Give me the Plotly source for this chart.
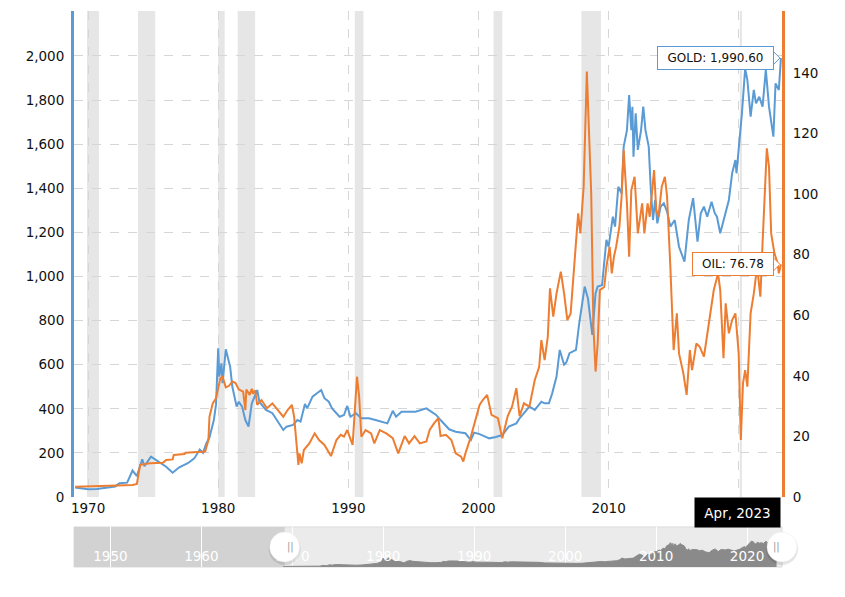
import pandas as pd
import plotly.graph_objects as go

# monthly readings (gold in USD/oz, WTI oil in USD/bbl)
gold_dates = [
    "1969-01", "1969-06", "1970-01", "1970-09", "1971-06", "1972-02", "1972-06", "1973-01",
    "1973-06", "1973-10", "1974-03", "1974-05", "1974-11", "1975-06", "1976-01", "1976-07",
    "1977-01", "1977-09", "1978-03", "1978-08", "1978-11", "1979-02", "1979-05", "1979-09",
    "1979-11", "1980-01", "1980-02", "1980-04", "1980-05", "1980-08", "1980-12", "1981-02",
    "1981-06", "1981-08", "1981-11", "1982-02", "1982-05", "1982-08", "1982-11", "1983-01",
    "1983-03", "1983-07", "1983-09", "1984-03", "1984-07", "1985-01", "1985-04", "1985-10",
    "1986-02", "1986-05", "1986-09", "1986-11", "1987-04", "1987-12", "1988-03", "1988-07",
    "1988-10", "1989-05", "1989-09", "1989-12", "1990-03", "1990-08", "1991-01", "1991-08",
    "1992-02", "1993-01", "1993-06", "1993-09", "1994-02", "1995-03", "1996-01", "1996-10",
    "1997-02", "1997-10", "1998-04", "1999-01", "1999-06", "1999-09", "2000-02", "2000-11",
    "2001-05", "2001-11", "2002-05", "2002-12", "2003-03", "2003-07", "2003-12", "2004-05",
    "2004-11", "2005-02", "2005-06", "2005-09", "2006-01", "2006-04", "2006-08", "2006-10",
    "2007-01", "2007-07", "2007-10", "2008-03", "2008-06", "2008-10", "2009-01", "2009-03",
    "2009-07", "2009-11", "2010-01", "2010-05", "2010-07", "2010-10", "2011-01", "2011-03",
    "2011-06", "2011-08", "2011-10", "2011-11", "2011-12", "2012-02", "2012-04", "2012-07",
    "2012-09", "2012-11", "2013-02", "2013-04", "2013-06", "2013-08", "2013-10", "2014-01",
    "2014-04", "2014-07", "2014-10", "2015-02", "2015-06", "2015-11", "2016-03", "2016-07",
    "2016-11", "2017-02", "2017-05", "2017-08", "2017-12", "2018-03", "2018-05", "2018-08",
    "2019-01", "2019-04", "2019-07", "2019-10", "2019-11", "2020-02", "2020-04", "2020-07",
    "2020-09", "2020-12", "2021-03", "2021-05", "2021-08", "2021-11", "2022-02", "2022-05",
    "2022-09", "2022-11", "2023-02", "2023-04",
]
gold_prices = [
    43, 41, 35, 36, 41, 48, 62, 65,
    120, 95, 171, 140, 183, 160, 137, 110,
    135, 153, 175, 215, 200, 243, 270, 349,
    420, 674, 546, 606, 516, 670, 591, 500,
    410, 432, 410, 349, 319, 425, 463, 485,
    432, 410, 395, 380, 349, 304, 319, 327,
    349, 342, 422, 402, 455, 485, 448, 432,
    402, 364, 372, 413, 364, 380, 357, 357,
    349, 334, 391, 364, 387, 387, 402, 372,
    349, 307, 296, 289, 258, 292, 285, 266,
    272, 281, 319, 334, 357, 380, 410, 395,
    432, 425, 425, 470, 546, 667, 600, 610,
    652, 667, 788, 954, 900, 735, 924, 954,
    960, 1166, 1135, 1271, 1226, 1407, 1377, 1589,
    1664, 1823, 1664, 1770, 1543, 1740, 1574, 1664,
    1770, 1664, 1589, 1392, 1256, 1347, 1241, 1317,
    1332, 1294, 1226, 1256, 1135, 1067, 1256, 1355,
    1158, 1287, 1317, 1271, 1339, 1287, 1271, 1196,
    1287, 1347, 1468, 1528, 1468, 1634, 1740, 1944,
    1891, 1725, 1846, 1785, 1815, 1770, 1937, 1770,
    1634, 1876, 1846, 1990.60,
]

oil_dates = [
    "1969-01", "1970-11", "1971-01", "1973-06", "1973-10", "1974-01", "1974-10", "1975-10",
    "1976-01", "1976-07", "1976-08", "1977-06", "1977-07", "1979-01", "1979-04", "1979-05",
    "1979-08", "1979-11", "1980-03", "1980-05", "1980-08", "1980-11", "1981-02", "1981-05",
    "1981-08", "1981-12", "1982-02", "1982-03", "1982-06", "1982-08", "1982-09", "1982-11",
    "1983-01", "1983-05", "1983-10", "1984-03", "1984-08", "1985-01", "1985-05", "1985-09",
    "1985-11", "1986-03", "1986-04", "1986-06", "1986-08", "1987-01", "1987-06", "1987-10",
    "1988-03", "1988-09", "1989-02", "1989-06", "1989-09", "1989-12", "1990-05", "1990-09",
    "1990-11", "1991-01", "1991-05", "1991-10", "1992-01", "1992-06", "1992-12", "1993-06",
    "1993-11", "1994-05", "1994-09", "1995-02", "1995-07", "1996-01", "1996-04", "1996-08",
    "1996-12", "1997-02", "1997-07", "1997-12", "1998-04", "1998-09", "1998-11", "1999-01",
    "1999-06", "1999-10", "2000-02", "2000-05", "2000-09", "2001-01", "2001-07", "2001-11",
    "2002-04", "2002-08", "2002-12", "2003-03", "2003-07", "2003-12", "2004-05", "2004-09",
    "2004-11", "2005-02", "2005-05", "2005-07", "2005-10", "2006-01", "2006-05", "2006-08",
    "2006-11", "2007-02", "2007-06", "2007-09", "2007-11", "2008-02", "2008-05", "2008-07",
    "2008-09", "2008-11", "2009-01", "2009-03", "2009-05", "2009-09", "2009-11", "2010-02",
    "2010-04", "2010-06", "2010-08", "2010-11", "2011-01", "2011-03", "2011-06", "2011-08",
    "2011-10", "2012-01", "2012-03", "2012-04", "2012-08", "2012-10", "2013-01", "2013-03",
    "2013-07", "2013-09", "2013-11", "2014-02", "2014-05", "2014-07", "2014-10", "2014-11",
    "2015-01", "2015-04", "2015-06", "2015-10", "2016-01", "2016-04", "2016-06", "2016-10",
    "2017-01", "2017-05", "2017-10", "2018-02", "2018-06", "2018-08", "2018-11", "2019-01",
    "2019-04", "2019-07", "2019-10", "2020-01", "2020-03", "2020-05", "2020-07", "2020-09",
    "2020-12", "2021-03", "2021-06", "2021-09", "2021-11", "2022-01", "2022-03", "2022-05",
    "2022-07", "2022-10", "2023-01", "2023-02", "2023-04",
]
oil_prices = [
    3.4, 3.4, 3.6, 4.0, 4.3, 10.6, 11.1, 11.3,
    12.2, 12.4, 13.9, 14.2, 14.6, 15.0, 18.8, 26.5,
    30.9, 32.6, 39.2, 39.7, 36.2, 36.7, 38.1, 37.6,
    35.5, 34.8, 28.7, 35.5, 33.7, 35.7, 34.1, 35.2,
    30.4, 32.0, 29.3, 30.9, 28.7, 26.5, 28.7, 30.4,
    26.5, 10.6, 14.4, 11.1, 15.5, 17.7, 21.0, 18.8,
    17.2, 13.5, 18.8, 20.5, 19.9, 22.1, 17.2, 39.7,
    33.1, 19.9, 22.1, 21.0, 17.7, 22.1, 21.0, 19.4,
    14.4, 20.1, 17.7, 20.1, 17.7, 18.3, 22.1, 24.3,
    26.0, 20.1, 20.5, 18.8, 14.4, 13.3, 11.7, 14.4,
    19.9, 25.4, 30.4, 32.0, 33.7, 27.1, 26.0, 19.4,
    26.7, 29.8, 35.9, 26.7, 30.9, 29.8, 38.6, 43.0,
    51.8, 45.2, 52.9, 68.9, 59.5, 67.2, 74.4, 67.2,
    58.4, 60.6, 78.2, 93.6, 87.0, 102.4, 140.4, 122.0,
    100.0, 56.2, 41.4, 50.7, 68.3, 69.3, 76.0, 82.6,
    73.8, 79.3, 82.6, 89.2, 99.1, 114.5, 96.9, 79.3,
    101.3, 105.7, 92.5, 87.0, 96.9, 87.0, 96.9, 92.5,
    107.9, 94.7, 92.5, 102.4, 105.7, 99.1, 76.0, 65.0,
    48.5, 60.6, 47.4, 40.8, 33.7, 48.5, 41.9, 50.7,
    49.6, 46.3, 59.5, 68.3, 73.8, 68.3, 45.8, 63.9,
    54.0, 58.4, 60.6, 47.4, 18.8, 37.5, 41.9, 36.4,
    60.6, 67.2, 76.0, 66.1, 83.7, 101.3, 115.1, 109.0,
    87.0, 80.4, 77.1, 73.8, 76.78,
]

recession_starts = ["1969-12", "1973-11", "1980-01", "1981-07", "1990-07", "2001-03", "2007-12", "2020-02"]
recession_ends = ["1970-11", "1975-03", "1980-07", "1982-11", "1991-03", "2001-11", "2009-06", "2020-04"]

gold_ticks = list(range(0, 2201, 200))
oil_ticks = list(range(0, 141, 20))
decade_ticks = ["1970-01-01", "1980-01-01", "1990-01-01", "2000-01-01", "2010-01-01", "2020-01-01"]

GOLD_C = "#5b9bd5"
OIL_C = "#ed7d31"
FONT = "DejaVu Sans"

main_range = ["1968-12-01", "2023-05-01"]
nav_range = ["1946-01-01", "2023-11-05"]
handle_date = "1969-03-01"

fig = go.Figure()

fig.add_trace(go.Scatter(x=gold_dates, y=gold_prices, mode="lines", name="GOLD",
                         line=dict(color=GOLD_C, width=2)))
fig.add_trace(go.Scatter(x=oil_dates, y=oil_prices, mode="lines", name="OIL", yaxis="y2",
                         line=dict(color=OIL_C, width=2)))
# navigator area
fig.add_trace(go.Scatter(x=gold_dates, y=gold_prices, mode="lines", xaxis="x2", yaxis="y3",
                         fill="tozeroy", fillcolor="#8a8a8a", line=dict(color="#8a8a8a", width=1)))

shapes = []
for s, e in zip(recession_starts, recession_ends):
    shapes.append(dict(type="rect", xref="x", yref="y domain", x0=s, x1=e, y0=0, y1=1,
                       fillcolor="#e6e6e6", line_width=0, layer="below"))

shapes.append(dict(type="rect", xref="x2 domain", yref="y3 domain", x0=0, x1=1, y0=0, y1=1,
                   fillcolor="#ebebeb", line=dict(color="#dcdcdc", width=1), layer="below"))
shapes.append(dict(type="rect", xref="x2", yref="y3 domain", x0=nav_range[0], x1=handle_date,
                   y0=0, y1=1, fillcolor="#d2d2d2", line_width=0, layer="below"))

# handle positions on the navigator as fractions of its width
n0, n1 = pd.Timestamp(nav_range[0]), pd.Timestamp(nav_range[1])
left_frac = (pd.Timestamp(handle_date) - n0) / (n1 - n0)
for fx in [left_frac, 1.0]:
    shapes.append(dict(type="circle", xref="x2 domain", yref="y3 domain", xsizemode="pixel",
                       ysizemode="pixel", xanchor=fx, yanchor=0.5, x0=-16, x1=16, y0=-18, y1=14,
                       fillcolor="rgba(0,0,0,0.10)", line_width=0, layer="above"))
    shapes.append(dict(type="circle", xref="x2 domain", yref="y3 domain", xsizemode="pixel",
                       ysizemode="pixel", xanchor=fx, yanchor=0.5, x0=-15, x1=15, y0=-15, y1=15,
                       fillcolor="white", line=dict(color="#e8e8e8", width=0.5), layer="above"))

# little pointers from the value labels to the last points
for yref, val, col in [("y", gold_prices[-1], GOLD_C), ("y2", oil_prices[-1], OIL_C)]:
    shapes.append(dict(type="path", xref="x", yref=yref, xsizemode="pixel", ysizemode="pixel",
                       xanchor=gold_dates[-1], yanchor=val, path="M -8,7 L -1,0 L -8,-7 Z",
                       fillcolor="white", line=dict(color=col, width=1), layer="above"))

annotations = [
    dict(x=gold_dates[-1], y=gold_prices[-1], xref="x", yref="y", xanchor="right", xshift=-7,
         text=f"GOLD: {gold_prices[-1]:,.2f}", showarrow=False, bordercolor=GOLD_C,
         borderwidth=1, borderpad=4, bgcolor="white", width=107,
         font=dict(family=FONT, size=12, color="#111")),
    dict(x=oil_dates[-1], y=oil_prices[-1], xref="x", yref="y2", xanchor="right", xshift=-7,
         text=f"OIL: {oil_prices[-1]:.2f}", showarrow=False, bordercolor=OIL_C,
         borderwidth=1, borderpad=4, bgcolor="white", width=72,
         font=dict(family=FONT, size=12, color="#111")),
    dict(x=gold_dates[-1], y=0, xref="x", yref="y domain", xanchor="right", yanchor="top",
         text=pd.Timestamp(gold_dates[-1]).strftime("%b, %Y"), showarrow=False,
         bgcolor="black", width=85, height=29, borderpad=0,
         font=dict(family=FONT, size=13.5, color="white")),
]
for fx in [left_frac, 1.0]:
    annotations.append(dict(x=fx, y=0.5, xref="x2 domain", yref="y3 domain", text="||",
                            showarrow=False, font=dict(family=FONT, size=10, color="#9a9a9a")))

# the page adds an 8px body margin, so the figure is 8px smaller each way
fig.update_layout(
    width=837, height=589,
    margin=dict(l=66, r=63, t=3, b=30),
    paper_bgcolor="white", plot_bgcolor="white",
    showlegend=False, hovermode=False,
    font=dict(family=FONT, size=13.5, color="#111"),
    shapes=shapes, annotations=annotations,
    xaxis=dict(type="date", range=main_range, anchor="y", domain=[0, 1],
               tickvals=decade_ticks, ticktext=["1970", "1980", "1990", "2000", "2010", ""],
               showgrid=True, gridcolor="#d6d6d6", griddash="dash", gridwidth=1,
               zeroline=False, showline=False, ticks="", ticklabelstandoff=2),
    yaxis=dict(range=[0, 2204], domain=[0.1259, 1], tickvals=gold_ticks,
               ticktext=[f"{v:,}" for v in gold_ticks[:-1]] + [""],
               showgrid=True, gridcolor="#d6d6d6", griddash="dash", gridwidth=1,
               zeroline=False, showline=True, linecolor=GOLD_C, linewidth=3,
               ticks="", ticklabelstandoff=4),
    yaxis2=dict(range=[0, 160.4], overlaying="y", side="right", tickvals=oil_ticks,
                showgrid=False, zeroline=False, showline=True, linecolor=OIL_C, linewidth=3,
                ticks="", ticklabelstandoff=5),
    xaxis2=dict(type="date", range=nav_range, anchor="y3", domain=[0, 1],
                tick0="1950-01-01", dtick="M120", tickformat="%Y",
                showgrid=True, gridcolor="white", gridwidth=1, zeroline=False, showline=False,
                ticks="", ticklabelposition="inside",
                tickfont=dict(family=FONT, size=13.5, color="white")),
    yaxis3=dict(range=[0, 3000], domain=[0, 0.072], anchor="x2", visible=False),
)

fig.write_html("out.html")
